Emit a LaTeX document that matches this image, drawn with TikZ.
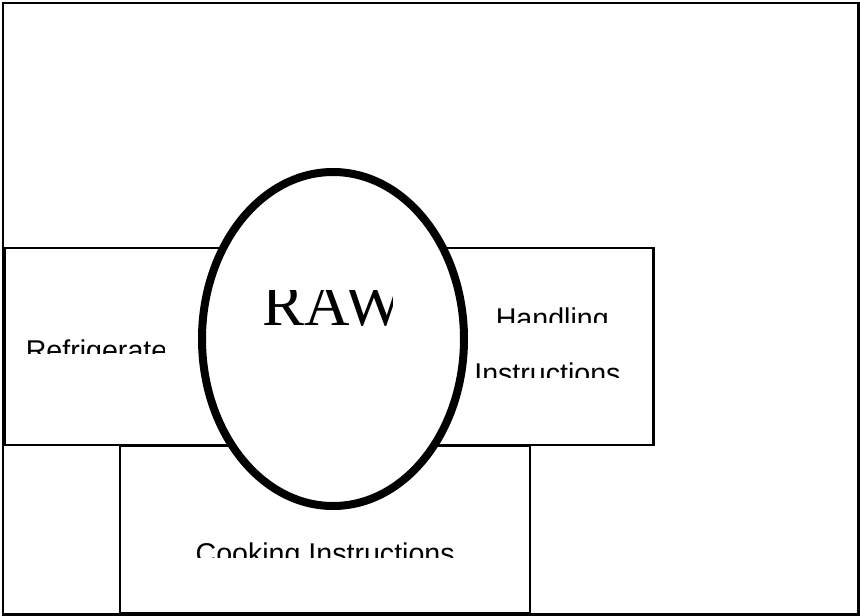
\documentclass[tikz,border=0pt]{standalone}
\usepackage{fontspec}
\setmainfont{Liberation Sans}
\newfontfamily\rawfont{Liberation Serif}
\usetikzlibrary{shapes.geometric}
\tikzset{
  boxline/.style={draw=black, line width=2.2pt, fill=white, inner sep=0pt, outer sep=0pt},
  label28/.style={inner sep=0pt, outer sep=0pt, anchor=base west, font=\fontsize{28.6}{30}\selectfont},
  rawlabel/.style={inner sep=0pt, outer sep=0pt, anchor=base west, font=\rawfont\fontsize{63}{65}\selectfont},
  eggshape/.style={ellipse, draw=black, line width=8pt, fill=white, inner sep=0pt, outer sep=0pt}
}
\begin{document}
\begin{tikzpicture}[x=1pt, y=-1pt]
\useasboundingbox (0,0) rectangle (860,616);
% outer frame
\draw[line width=2.6pt] (3,3) rectangle (858.5,614.5);
% boxes
\node[boxline, minimum width=325.5pt, minimum height=197pt, anchor=north west] (fridge) at (4.5,248) {};
\node[boxline, minimum width=313.5pt, minimum height=197pt, anchor=north west] (handle) at (340,248) {};
\node[boxline, minimum width=410pt, minimum height=167pt, anchor=north west] (cook) at (120,446) {};
% clipped labels
\begin{scope}
  \clip (20,330) rectangle (164.5,353);
  \node[label28] (tfridge) at (25.8,360.5) {Refrigerate};
\end{scope}
\begin{scope}
  \clip (480,300) rectangle (640,322);
  \node[label28] (thandle) at (495.8,328.5) {Handling};
\end{scope}
\begin{scope}
  \clip (465,355) rectangle (640,377);
  \node[label28] (tinstr) at (474.3,383.5) {Instructions};
\end{scope}
\begin{scope}
  \clip (185,535) rectangle (470,557);
  \node[label28] (tcook) at (195.6,563.5) {Cooking Instructions};
\end{scope}
% central ellipse
\node[eggshape, minimum width=262pt, minimum height=334pt] (egg) at (333,339) {};
\begin{scope}
  \clip (250,290) rectangle (392,340);
  \node[rawlabel] (traw) at (262,325) {RAW};
\end{scope}
\end{tikzpicture}
\end{document}
